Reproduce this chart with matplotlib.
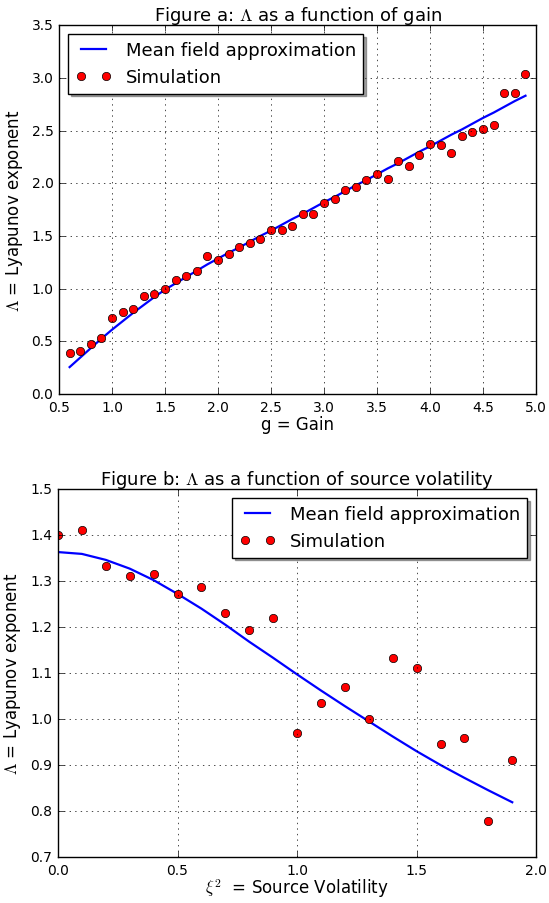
import matplotlib
matplotlib.use("Agg")
import matplotlib.pyplot as plt

plt.style.use('classic')
plt.rcParams['font.family'] = ['DejaVu Sans']
plt.rcParams['mathtext.fontset'] = 'cm'

# Figure a: Lyapunov exponent vs gain
gain = [0.6, 0.7, 0.8, 0.9, 1.0, 1.1, 1.2, 1.3, 1.4, 1.5, 1.6, 1.7, 1.8, 1.9, 2.0,
        2.1, 2.2, 2.3, 2.4, 2.5, 2.6, 2.7, 2.8, 2.9, 3.0, 3.1, 3.2, 3.3, 3.4, 3.5,
        3.6, 3.7, 3.8, 3.9, 4.0, 4.1, 4.2, 4.3, 4.4, 4.5, 4.6, 4.7, 4.8, 4.9]
mf_gain = [0.255, 0.345, 0.435, 0.525, 0.61, 0.69, 0.77, 0.845, 0.92, 0.99, 1.05, 1.11,
           1.17, 1.23, 1.285, 1.34, 1.39, 1.445, 1.50, 1.55, 1.605, 1.66, 1.71, 1.765,
           1.82, 1.87, 1.925, 1.98, 2.03, 2.085, 2.14, 2.19, 2.245, 2.30, 2.35, 2.405,
           2.46, 2.51, 2.565, 2.62, 2.67, 2.725, 2.78, 2.83]
sim_gain = [0.387, 0.41, 0.47, 0.53, 0.72, 0.78, 0.81, 0.93, 0.95, 1.00, 1.08, 1.12,
            1.17, 1.31, 1.27, 1.33, 1.39, 1.43, 1.47, 1.56, 1.56, 1.59, 1.71, 1.71,
            1.81, 1.85, 1.94, 1.96, 2.03, 2.09, 2.04, 2.21, 2.16, 2.27, 2.37, 2.36,
            2.29, 2.45, 2.49, 2.51, 2.55, 2.86, 2.86, 3.04]

# Figure b: Lyapunov exponent vs source volatility
vol = [0.0, 0.1, 0.2, 0.3, 0.4, 0.5, 0.6, 0.7, 0.8, 0.9, 1.0, 1.1, 1.2, 1.3, 1.4,
       1.5, 1.6, 1.7, 1.8, 1.9]
mf_vol = [1.363, 1.359, 1.346, 1.327, 1.302, 1.272, 1.240, 1.205, 1.168, 1.133, 1.097,
          1.062, 1.028, 0.995, 0.962, 0.930, 0.900, 0.872, 0.845, 0.819]
sim_vol = [1.40, 1.41, 1.333, 1.311, 1.316, 1.271, 1.288, 1.231, 1.194, 1.219, 0.969,
           1.035, 1.070, 1.000, 1.133, 1.112, 0.946, 0.958, 0.779, 0.910]

fig = plt.figure(figsize=(5.49, 9.04), facecolor='white')

ax1 = fig.add_axes([0.1075, 0.5631, 0.869, 0.408])
ax1.plot(gain, mf_gain, 'b-', lw=1.6, label='Mean field approximation')
ax1.plot(gain, sim_gain, 'ro', ms=6, label='Simulation')
ax1.set_xlim(0.5, 5.0)
ax1.set_ylim(0.0, 3.5)
ax1.grid(True)
ax1.set_title(r'Figure a: $\Lambda$ as a function of gain', fontsize=13, pad=4)
ax1.set_xlabel('g = Gain', fontsize=12, labelpad=1)
ax1.set_ylabel(r'$\Lambda$ = Lyapunov exponent', fontsize=12)
ax1.tick_params(labelsize=10)
ax1.legend(loc='upper left', numpoints=2, shadow=True, fancybox=False, fontsize=13)

ax2 = fig.add_axes([0.1056, 0.0509, 0.871, 0.407])
ax2.plot(vol, mf_vol, 'b-', lw=1.6, label='Mean field approximation')
ax2.plot(vol, sim_vol, 'ro', ms=6, label='Simulation')
ax2.set_xlim(0.0, 2.0)
ax2.set_ylim(0.7, 1.5)
ax2.grid(True)
ax2.set_title(r'Figure b: $\Lambda$ as a function of source volatility', fontsize=13, pad=4)
ax2.set_xlabel(r'$\xi^2$  = Source Volatility', fontsize=12, labelpad=0)
ax2.set_ylabel(r'$\Lambda$ = Lyapunov exponent', fontsize=12)
ax2.tick_params(labelsize=10)
ax2.legend(loc='upper right', numpoints=2, shadow=True, fancybox=False, fontsize=13)

fig.savefig('out.png', dpi=100, facecolor='white')
